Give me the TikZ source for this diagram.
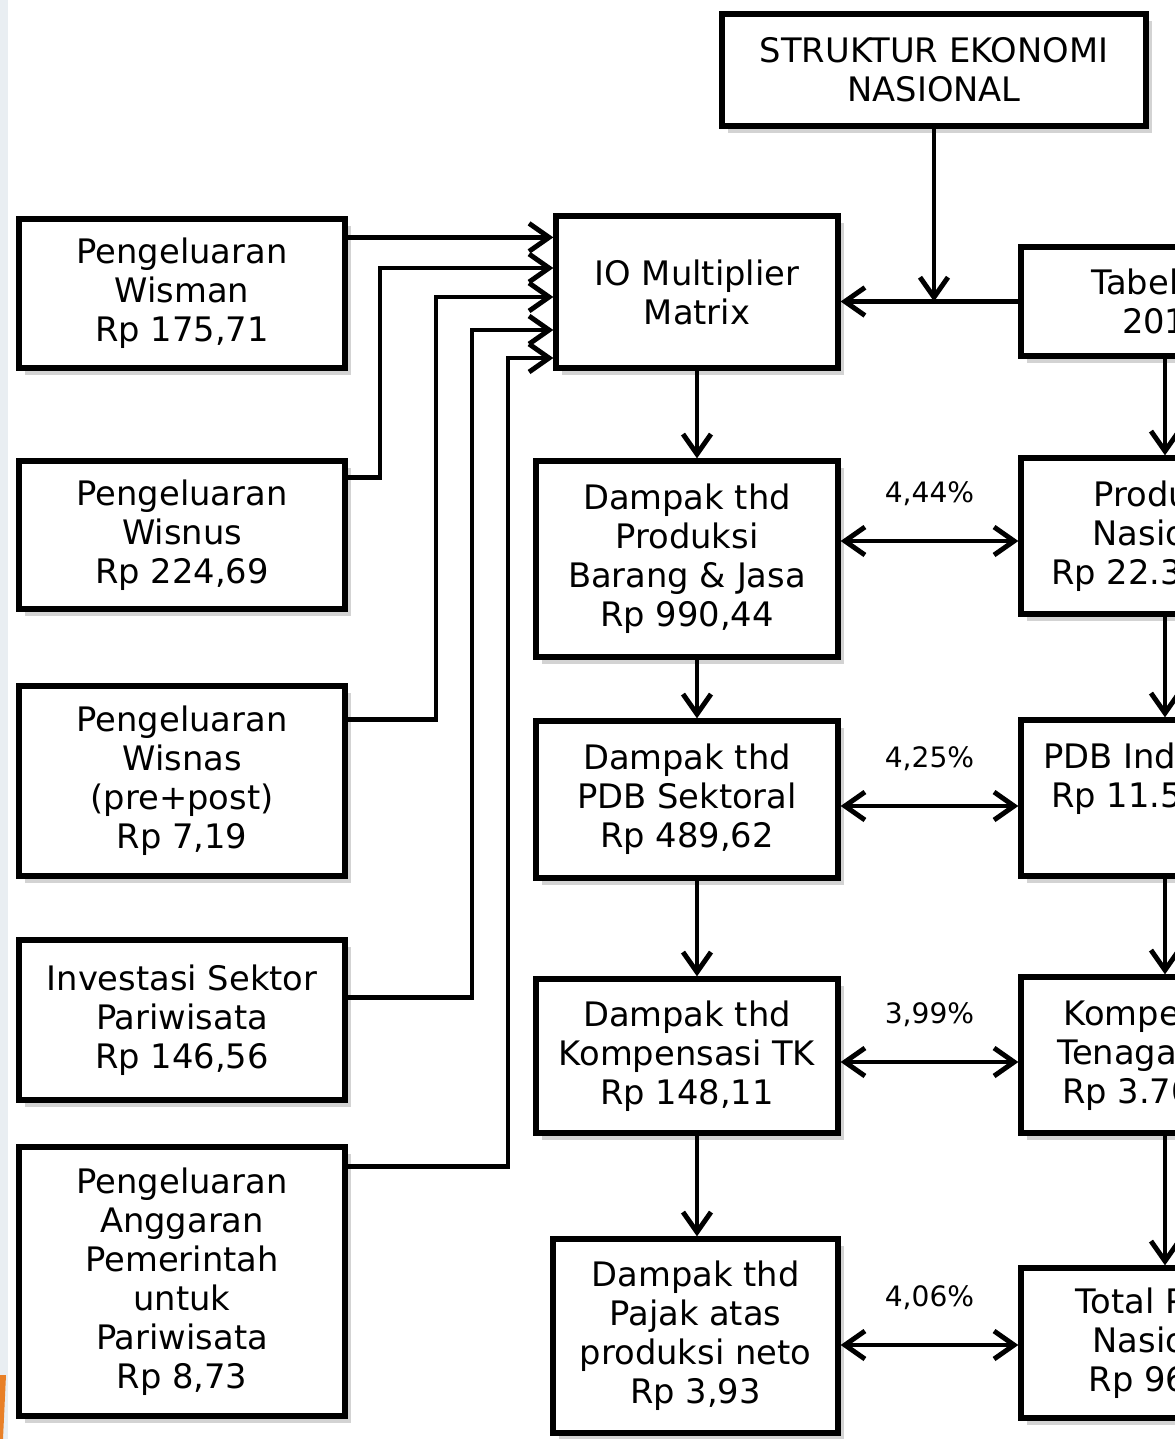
\documentclass[tikz,border=0pt]{standalone}
\usepackage{fontspec}
\setmainfont{DejaVu Sans}
\usepackage{xcolor}
\usepackage{tikz}
\usetikzlibrary{arrows.meta}
\usetikzlibrary{shadows}
\usetikzlibrary{calc}
\definecolor{edgegrey}{RGB}{233,238,242}
\definecolor{edgeorange}{RGB}{232,128,40}

\begin{document}
\begin{tikzpicture}[
	box/.style={draw, line width=1.5pt, fill=white, align=center, inner sep=0pt,
		font=\fontsize{9.6}{11.1}\selectfont,
		drop shadow={shadow xshift=0.6mm, shadow yshift=-0.7mm, opacity=0.35}},
	link/.style={line width=1.4pt, -{Straight Barb[length=2mm,width=2.8mm]}},
	both/.style={line width=1.4pt, {Straight Barb[length=2mm,width=2.8mm]}-{Straight Barb[length=2mm,width=2.8mm]}},
	pct/.style={font=\fontsize{8}{9}\selectfont, inner sep=0pt}
	]
	\useasboundingbox (0,0) rectangle (11.75,-14.39);
	\clip (0,0) rectangle (11.75,-14.39);
	\fill[edgegrey] (0,0) rectangle (0.08,-14.39);
	\fill[edgeorange] (0,-13.75) -- (0.06,-13.75) -- (0.03,-14.39) -- (0,-14.39) -- cycle;
	
	% top and multiplier
	\node[box, minimum width=4.24cm, minimum height=1.12cm] (struk) at (9.34,-0.70) {STRUKTUR EKONOMI\\NASIONAL};
	\node[box, minimum width=2.82cm, minimum height=1.52cm] (io) at (6.97,-2.92) {IO Multiplier\\Matrix};
	\node[box, minimum width=2.88cm, minimum height=1.09cm] (tabel) at (11.65,-3.015) {Tabel I-O\\2010};
	
	% left column
	\node[box, minimum width=3.26cm, minimum height=1.49cm] (wisman) at (1.82,-2.935) {Pengeluaran\\Wisman\\Rp 175,71};
	\node[box, minimum width=3.26cm, minimum height=1.48cm] (wisnus) at (1.82,-5.35) {Pengeluaran\\Wisnus\\Rp 224,69};
	\node[box, minimum width=3.26cm, minimum height=1.90cm] (wisnas) at (1.82,-7.81) {Pengeluaran\\Wisnas\\(pre+post)\\Rp 7,19};
	\node[box, minimum width=3.26cm, minimum height=1.60cm] (invest) at (1.82,-10.20) {Investasi Sektor\\Pariwisata\\Rp 146,56};
	\node[box, minimum width=3.26cm, minimum height=2.69cm] (anggaran) at (1.82,-12.815) {Pengeluaran\\Anggaran\\Pemerintah\\untuk\\Pariwisata\\Rp 8,73};
	
	% middle column
	\node[box, minimum width=3.02cm, minimum height=1.96cm] (prod) at (6.87,-5.59) {Dampak thd\\Produksi\\Barang \& Jasa\\Rp 990,44};
	\node[box, minimum width=3.02cm, minimum height=1.57cm] (pdb) at (6.87,-7.995) {Dampak thd\\PDB Sektoral\\Rp 489,62};
	\node[box, minimum width=3.02cm, minimum height=1.54cm] (komp) at (6.87,-10.56) {Dampak thd\\Kompensasi TK\\Rp 148,11};
	\node[box, minimum width=2.85cm, minimum height=1.94cm] (pajak) at (6.955,-13.36) {Dampak thd\\Pajak atas\\produksi neto\\Rp 3,93};
	
	% right column
	\node[box, minimum width=2.88cm, minimum height=1.56cm] (rprod) at (11.65,-5.36) {Produksi\\Nasional\\Rp 22.307,21};
	\node[box, minimum width=2.88cm, minimum height=1.56cm] (rpdb) at (11.65,-7.98) {PDB Indonesia\\Rp 11.520,47\\[2pt]\mbox{}};
	\node[box, minimum width=2.88cm, minimum height=1.56cm] (rkomp) at (11.65,-10.55) {Kompensasi\\Tenaga Kerja\\Rp 3.709,68};
	\node[box, minimum width=2.88cm, minimum height=1.50cm] (rpajak) at (11.65,-13.43) {Total Pajak\\Nasional\\Rp 96,80};
	
	% inputs into the multiplier
	\coordinate [] (k2) at (3.80,-2.68);
	\coordinate [] (k3) at (4.36,-2.97);
	\coordinate [] (k4) at (4.72,-3.30);
	\coordinate [] (k5) at (5.08,-3.58);
	\draw[link] ([yshift=-0.21cm]wisman.north east) -- ([yshift=-0.21cm]wisman.north east -| io.west);
	\draw[link] ([yshift=-0.19cm]wisnus.north east) -| (k2) -- (k2 -| io.west);
	\draw[link] ([yshift=-0.36cm]wisnas.north east) -| (k3) -- (k3 -| io.west);
	\draw[link] ([yshift=-0.60cm]invest.north east) -| (k4) -- (k4 -| io.west);
	\draw[link] ([yshift=-0.22cm]anggaran.north east) -| (k5) -- (k5 -| io.west);
	
	\draw[link] (struk.south) -- (struk.south |- tabel.west);
	\draw[link] (tabel.west) -- (tabel.west -| io.east);
	
	% impact chain
	\draw[link] (io.south) -- (io.south |- prod.north);
	\draw[link] (io.south |- prod.south) -- (io.south |- pdb.north);
	\draw[link] (io.south |- pdb.south) -- (io.south |- komp.north);
	\draw[link] (io.south |- komp.south) -- (io.south |- pajak.north);
	
	\draw[link] (tabel.south) -- (rprod.north);
	\draw[link] (rprod.south) -- (rpdb.north);
	\draw[link] (rpdb.south) -- (rkomp.north);
	\draw[link] (rkomp.south) -- (rpajak.north);
	
	% shares
	\draw[both] ([yshift=-0.05cm]rprod.west -| prod.east) -- ([yshift=-0.05cm]rprod.west) node[pct, midway, above=0.33cm] (s1) {4,44\%};
	\draw[both] ([yshift=-0.08cm]rpdb.west -| pdb.east) -- ([yshift=-0.08cm]rpdb.west) node[pct, midway, above=0.33cm] (s2) {4,25\%};
	\draw[both] ([yshift=-0.07cm]rkomp.west -| komp.east) -- ([yshift=-0.07cm]rkomp.west) node[pct, midway, above=0.33cm] (s3) {3,99\%};
	\draw[both] ([yshift=-0.02cm]rpajak.west -| pajak.east) -- ([yshift=-0.02cm]rpajak.west) node[pct, midway, above=0.33cm] (s4) {4,06\%};
	
\end{tikzpicture}
\end{document}
